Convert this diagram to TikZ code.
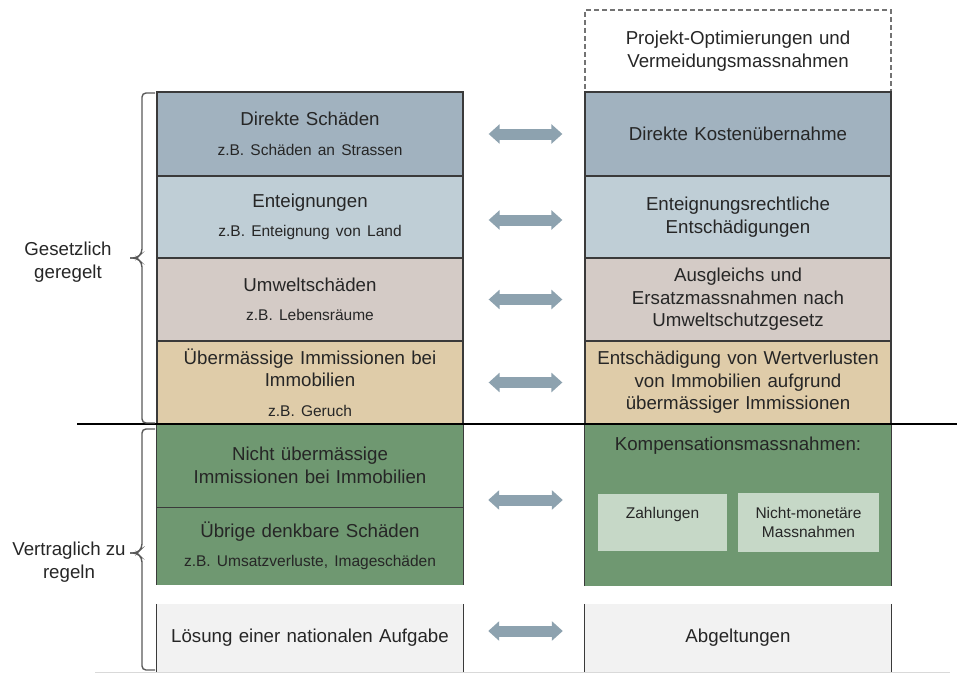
\documentclass[tikz,border=0pt]{standalone}
\usepackage{fontspec}
\setmainfont{Liberation Sans}
\usetikzlibrary{arrows.meta,calc}

\definecolor{rowblue}{HTML}{A1B2BF}
\definecolor{rowlight}{HTML}{BFCED6}
\definecolor{rowmauve}{HTML}{D4CBC6}
\definecolor{rowtan}{HTML}{DFCCA9}
\definecolor{rowgreen}{HTML}{6F9871}
\definecolor{subgreen}{HTML}{C6D8C7}
\definecolor{rowgray}{HTML}{F2F2F2}
\definecolor{arrowblue}{HTML}{8DA2AF}
\definecolor{edgedark}{HTML}{3A3A3A}
\definecolor{bracegray}{HTML}{595959}
\definecolor{txtdark}{HTML}{262626}
\definecolor{footgray}{HTML}{D9D9D9}

\newcommand\zbfont{\fontsize{15.5}{19}\selectfont}

\begin{document}
\begin{tikzpicture}[
    x=1pt, y=-1pt,
    box/.style={rectangle, minimum width=306pt, inner sep=0pt, align=center,
        text width=298pt, text=txtdark, font=\fontsize{18.7}{22.5}\selectfont},
    framed/.style={box, draw=edgedark, line width=1.3pt},
    subbox/.style={rectangle, fill=subgreen, inner sep=0pt, align=center,
        text=txtdark, font=\zbfont},
    side/.style={align=center, text=txtdark, font=\fontsize{18.7}{22.5}\selectfont},
    twoway/.style={draw=arrowblue, line width=11pt,
        {Triangle[width=19pt,length=11pt]}-{Triangle[width=19pt,length=11pt]}},
    curly/.style={draw=bracegray, line width=1.4pt, rounded corners=4pt},
    rim/.style={draw=edgedark, line width=1.3pt}
]
    \useasboundingbox (0,0) rectangle (957,674);

    % linke Spalte
    \node[framed, fill=rowblue, minimum height=84pt] (dir) at (310,134)
        {Direkte Schäden\\[7pt]{\zbfont z.B. Schäden an Strassen}};
    \node[framed, fill=rowlight, minimum height=82pt] (enteig) at (310,217)
        {Enteignungen\\[7pt]{\zbfont z.B. Enteignung von Land}};
    \node[framed, fill=rowmauve, minimum height=83pt] (umwelt) at (310,299.5)
        {Umweltschäden\\[7pt]{\zbfont z.B. Lebensräume}};
    \node[framed, fill=rowtan, minimum height=83pt] (immi) at (310,382.5)
        {Übermässige Immissionen bei\\Immobilien\\[7pt]{\zbfont z.B. Geruch}};
    \node[box, fill=rowgreen, minimum height=83pt] (nicht) at (310,465.5)
        {Nicht übermässige\\Immissionen bei Immobilien};
    \node[box, fill=rowgreen, minimum height=78pt] (uebrig) at (310,546)
        {Übrige denkbare Schäden\\[7pt]{\zbfont z.B. Umsatzverluste, Imageschäden}};
    \node[box, fill=rowgray, minimum height=68pt] (loesung) at (310,638)
        {Lösung einer nationalen Aufgabe};

    % rechte Spalte
    \node[box, draw=black!55, dashed, dash pattern=on 5pt off 3pt, line width=1.2pt,
        minimum height=82pt] (proj) at (738,51)
        {Projekt-Optimierungen und\\Vermeidungsmassnahmen};
    \node[framed, fill=rowblue, minimum height=84pt] (kost) at (738,134)
        {Direkte Kostenübernahme};
    \node[framed, fill=rowlight, minimum height=82pt] (entsch) at (738,217)
        {Enteignungsrechtliche\\Entschädigungen};
    \node[framed, fill=rowmauve, minimum height=83pt] (ausgl) at (738,299.5)
        {Ausgleichs und\\Ersatzmassnahmen nach\\Umweltschutzgesetz};
    \node[framed, fill=rowtan, minimum height=83pt] (wert) at (738,382.5)
        {Entschädigung von Wertverlusten\\von Immobilien aufgrund\\übermässiger Immissionen};
    \node[box, fill=rowgreen, minimum height=162pt] (komp) at (738,505) {};
    \node[side] (kompt) at (738,446) {Kompensationsmassnahmen:};
    \node[subbox, minimum width=129pt, minimum height=57pt] (zahl) at (662.5,522.5)
        {Zahlungen\\\mbox{}};
    \node[subbox, minimum width=141pt, minimum height=59pt] (nmon) at (808.5,522.5)
        {Nicht-monetäre\\Massnahmen};
    \node[box, fill=rowgray, minimum height=68pt] (abgelt) at (738,638)
        {Abgeltungen};

    % Ränder der grünen und grauen Felder
    \draw[rim] (nicht.north west) -- (uebrig.south west);
    \draw[rim] (nicht.north east) -- (uebrig.south east);
    \draw[rim] (nicht.south west) -- (nicht.south east);
    \draw[rim] (komp.north west) -- (komp.south west);
    \draw[rim] (komp.north east) -- (komp.south east);
    \draw[rim] (loesung.north west) -- (loesung.south west);
    \draw[rim] (loesung.north east) -- (loesung.south east);
    \draw[rim] (abgelt.north west) -- (abgelt.south west);
    \draw[rim] (abgelt.north east) -- (abgelt.south east);

    % Trennlinien
    \draw[line width=1.6pt] (77,424) -- (957,424);
    \draw[footgray, line width=1.6pt] (95,672.5) -- (950,672.5);

    % Doppelpfeile
    \draw[twoway] ([xshift=25pt]dir.east) -- ([xshift=-22pt]kost.west);
    \draw[twoway] ([xshift=25pt,yshift=-3pt]enteig.east) -- ([xshift=-22pt,yshift=-3pt]entsch.west);
    \draw[twoway] ([xshift=25pt]umwelt.east) -- ([xshift=-22pt]ausgl.west);
    \draw[twoway] ([xshift=25pt]immi.east) -- ([xshift=-22pt]wert.west);
    \draw[twoway] ($(nicht.east |- komp.west)+(25,-5)$) -- ($(komp.west)+(-22,-5)$);
    \draw[twoway] ([xshift=25pt,yshift=7pt]loesung.east) -- ([xshift=-22pt,yshift=7pt]abgelt.west);

    % Klammern
    \draw[curly] (155,93) -- (142,93) -- (142,253) -- (137,258) -- (130,258);
    \draw[curly] (130,258) -- (137,258) -- (142,263) -- (142,423) -- (155,423);
    \draw[curly] (155,429) -- (142,429) -- (142,548) -- (137,553) -- (130,553);
    \draw[curly] (130,553) -- (137,553) -- (142,558) -- (142,670) -- (155,670);
    \node[side] (gesetz) at (68,262) {Gesetzlich\\geregelt};
    \node[side] (vertrag) at (69,562) {Vertraglich zu\\regeln};
\end{tikzpicture}
\end{document}
